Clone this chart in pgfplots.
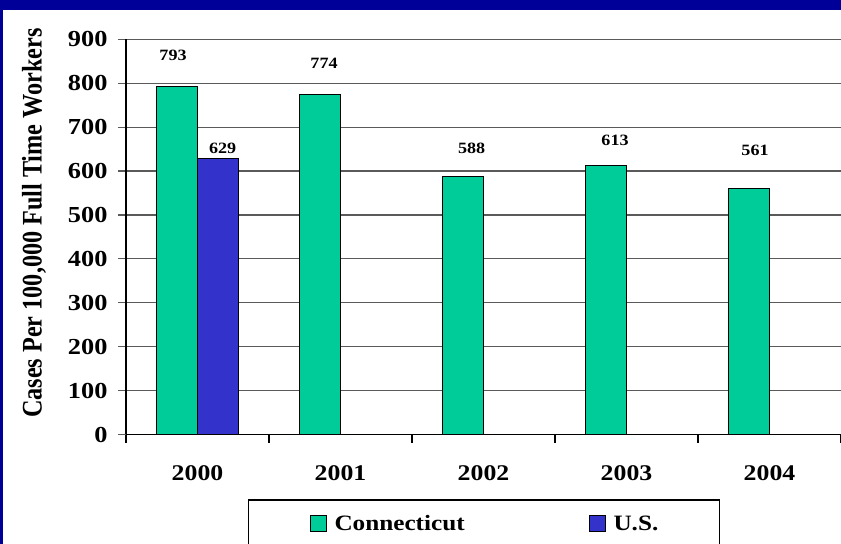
\documentclass[border=0pt]{standalone}
\usepackage{pgfplots}
\pgfplotsset{compat=1.18}
\usepackage{fontspec}
\setmainfont{Liberation Serif}[FakeStretch=1.15]
\newfontfamily\plainserif{Liberation Serif}
\definecolor{frameblue}{RGB}{0,0,153}
\definecolor{ctgreen}{RGB}{0,204,153}
\definecolor{usblue}{RGB}{51,51,204}
\definecolor{gridgray}{RGB}{90,90,90}
\begin{document}
\begin{tikzpicture}
\useasboundingbox (0bp,0bp) rectangle (841bp,544bp);
\fill[frameblue] (0bp,0bp) rectangle (841bp,544bp);
\fill[white] (3bp,0bp) rectangle (841bp,534bp);
\clip (0bp,0bp) rectangle (841bp,544bp);
\begin{axis}[
  at={(126bp,109.5bp)}, anchor=south west,
  scale only axis, width=715bp, height=395.2bp,
  xmin=-0.5, xmax=4.5, ymin=0, ymax=900,
  ybar=0pt, bar width=41bp,
  axis x line*=bottom, axis y line*=left,
  axis line style={line width=1.6bp, black, -},
  tick align=outside, major tick length=8bp,
  ytick={0,100,...,900},
  ymajorgrids, grid style={gridgray, line width=1.2bp},
  y tick style={gridgray, line width=1.2bp},
  xtick={-0.5,0.5,1.5,2.5,3.5,4.5},
  x tick label as interval,
  xticklabels={2000,2001,2002,2003,2004},
  x tick style={black, line width=1.2bp},
  /pgf/number format/assume math mode=true,
  yticklabel style={font=\fontsize{23}{23}\selectfont\bfseries, xshift=-7bp},
  xticklabel style={font=\fontsize{22.5}{22.5}\selectfont\bfseries, yshift=-20bp},
  ylabel={Cases Per 100,000 Full Time Workers},
  ylabel style={font=\plainserif\fontsize{24.3}{24.3}\selectfont\bfseries,
    at={(axis description cs:-0.1179,0.535)}, anchor=base, yscale=1.17},
  legend columns=2,
  legend image code/.code={\draw[#1, draw=black, line width=0.8bp] (0bp,-0.5bp) rectangle (16bp,15.5bp);},
  legend cell align=left,
  legend style={at={(axis description cs:0.1706,-0.164)}, anchor=north west,
    draw=black, line width=1.5bp, fill=white,
    font=\fontsize{22}{22}\selectfont\bfseries,
    inner xsep=61bp, inner ysep=15bp,
    nodes={inner sep=0pt, anchor=base west},
    column sep=8bp,
    /tikz/every even column/.append style={column sep=124bp}},
]
\addplot[fill=ctgreen, draw=black, line width=0.8bp] coordinates {(0,793) (1,774) (2,588) (3,613) (4,561)};
\addplot[fill=usblue, draw=black, line width=0.8bp] coordinates {(0,629)};
\legend{Connecticut, U.S.}
\begin{scope}[font=\fontsize{15.8}{15.8}\selectfont\bfseries]
\node at (axis cs:-0.171,864) {793};
\node at (axis cs:0.176,652) {629};
\node at (axis cs:0.885,845) {774};
\node at (axis cs:1.917,652) {588};
\node at (axis cs:2.920,670) {613};
\node at (axis cs:3.899,648) {561};
\end{scope}
\end{axis}
\end{tikzpicture}
\end{document}
